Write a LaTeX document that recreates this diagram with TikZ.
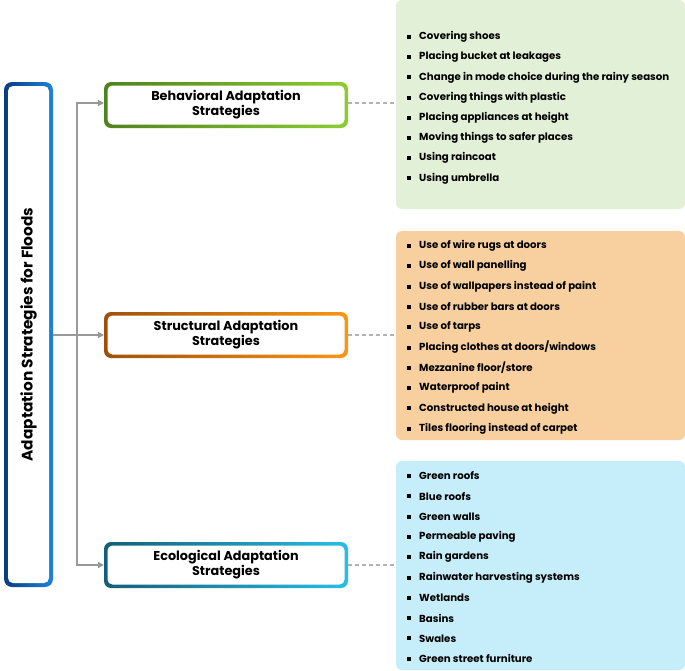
\documentclass[tikz,border=0pt]{standalone}
\usepackage{fontspec}
\setmainfont{Poppins}
\usetikzlibrary{arrows.meta}
\begin{document}
\begin{tikzpicture}[x=1pt,y=-1pt,
  item/.style={anchor=west,font=\fontsize{10.2}{11}\selectfont\bfseries,inner sep=0pt},
  head/.style={align=center,font=\fontsize{12.8}{15}\selectfont\bfseries,text=black},
  conn/.style={draw=gray!80,line width=1.6pt},
  dashln/.style={draw=gray!60,line width=1.2pt,dash pattern=on 4pt off 3pt}]
\useasboundingbox (0,0) rectangle (685,670);
% panels
\fill[fill={rgb,255:red,227;green,240;blue,216}] (396,0) [rounded corners=6pt] rectangle (685,209);
\fill[fill={rgb,255:red,248;green,208;blue,160}] (396,231) [rounded corners=6pt] rectangle (685,440);
\fill[fill={rgb,255:red,198;green,238;blue,250}] (396,461) [rounded corners=6pt] rectangle (685,670);
% main box
\shade[left color={rgb,255:red,10;green,60;blue,130},right color={rgb,255:red,30;green,130;blue,220},rounded corners=8pt] (4,82) rectangle (53,587);
\fill[white,rounded corners=5pt] (8,86) rectangle (49,583);
\node[rotate=90,font=\fontsize{15.3}{17}\selectfont\bfseries] (main) at (28.5,334.5) {Adaptation Strategies for Floods};
\coordinate (mr) at (53,335);
% boxes
\foreach \n/\y/\ca/\cb in {b/105/{rgb,255:red,80;green,130;blue,30}/{rgb,255:red,140;green,205;blue,50},
  s/335/{rgb,255:red,160;green,80;blue,10}/{rgb,255:red,250;green,150;blue,20},
  e/565/{rgb,255:red,20;green,95;blue,120}/{rgb,255:red,40;green,190;blue,230}}{
  \shade[left color=\ca,right color=\cb,rounded corners=7pt] (104,\y-23) rectangle (348,\y+23);
  \fill[white,rounded corners=5pt] (107.5,\y-19.5) rectangle (344.5,\y+19.5);
}
\node[head] (b) at (226,105) {Behavioral Adaptation\\Strategies};
\node[head] (s) at (226,335) {Structural Adaptation\\Strategies};
\node[head] (e) at (226,565) {Ecological Adaptation\\Strategies};
\coordinate (bl) at (104,103); \coordinate (sl) at (104,335); \coordinate (el) at (104,565);
\coordinate (j) at (77,335);
\draw[conn] (mr) -- (j);
\draw[conn,-{Triangle[length=6pt,width=6pt]}] (j) -- (77,103) -- (bl);
\draw[conn,-{Triangle[length=6pt,width=6pt]}] (j) -- (sl);
\draw[conn,-{Triangle[length=6pt,width=6pt]}] (j) -- (77,565) -- (el);
\coordinate (bp) at (396,103); \coordinate (sp) at (396,335); \coordinate (ep) at (396,565);
\draw[dashln] (348,103) -- (bp);
\draw[dashln] (348,335) -- (sp);
\draw[dashln] (348,565) -- (ep);
% items
\foreach \t [count=\i from 0] in {Covering shoes,Placing bucket at leakages,Change in mode choice during the rainy season,Covering things with plastic,Placing appliances at height,Moving things to safer places,Using raincoat,Using umbrella}{
  \fill (406.5,37+\i*20.2-2) rectangle (410.5,37+\i*20.2+2);
  \node[item] (g\i) at (419,37+\i*20.2) {\t};}
\foreach \t [count=\i from 0] in {Use of wire rugs at doors,Use of wall panelling,Use of wallpapers instead of paint,Use of rubber bars at doors,Use of tarps,Placing clothes at doors/windows,Mezzanine floor/store,Waterproof paint,Constructed house at height,Tiles flooring instead of carpet}{
  \fill (406.5,246+\i*20.3-2) rectangle (410.5,246+\i*20.3+2);
  \node[item] (o\i) at (419,246+\i*20.3) {\t};}
\foreach \t [count=\i from 0] in {Green roofs,Blue roofs,Green walls,Permeable paving,Rain gardens,Rainwater harvesting systems,Wetlands,Basins,Swales,Green street furniture}{
  \fill (406.5,476+\i*20.3-2) rectangle (410.5,476+\i*20.3+2);
  \node[item] (c\i) at (419,476+\i*20.3) {\t};}
\end{tikzpicture}
\end{document}
